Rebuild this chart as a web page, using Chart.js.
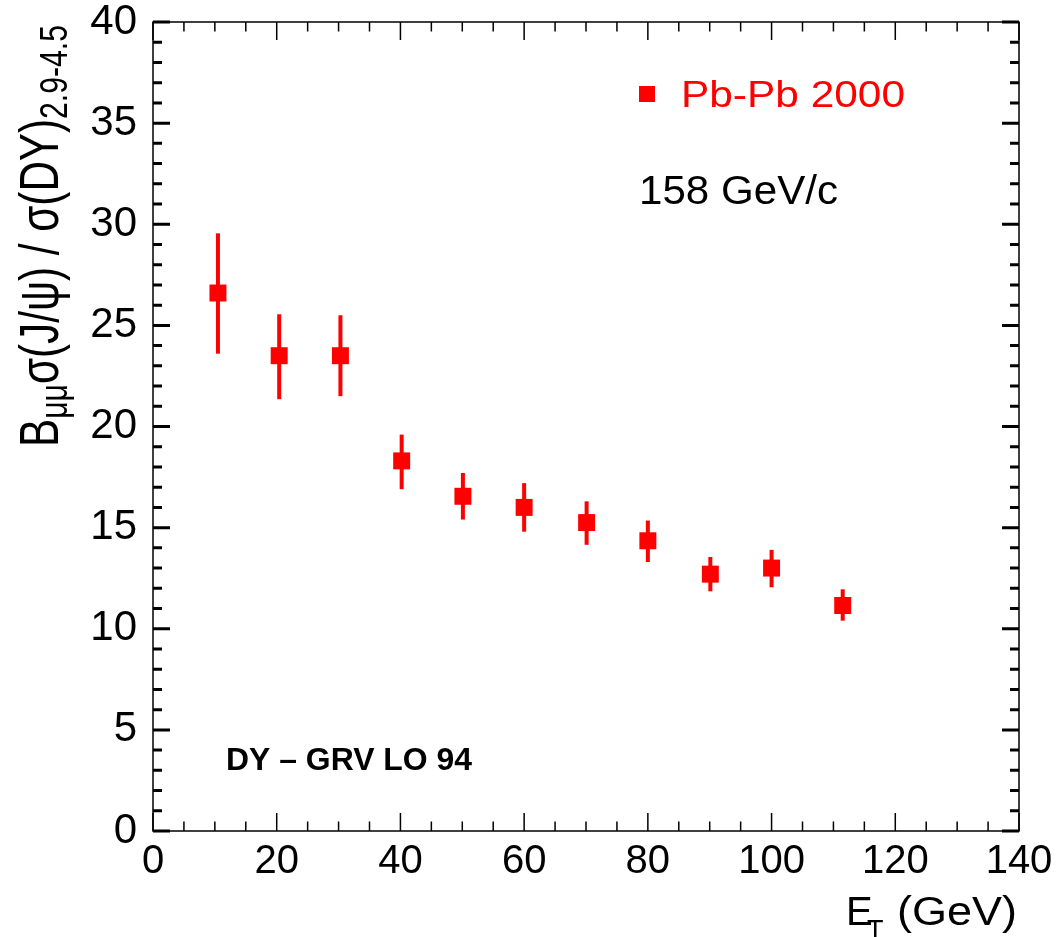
<!DOCTYPE html>
<html>
<head>
<meta charset="utf-8">
<script src="https://cdn.jsdelivr.net/npm/chart.js@4.4.1/dist/chart.umd.min.js"></script>
<style>
  html, body { margin: 0; padding: 0; background: #fff; }
  canvas { display: block; }
</style>
</head>
<body>
<canvas id="jpsiChart" width="1059" height="937"></canvas>
<script>
// E_T bins and J/psi / DY ratio
const etValues = [10.5, 20.4, 30.3, 40.2, 50.1, 60.0, 70.1, 80.0, 90.1, 100.0, 111.5];
const ratioValues = [26.6, 23.5, 23.5, 18.3, 16.55, 16.0, 15.25, 14.35, 12.7, 13.0, 11.15];
const errLow = [23.6, 21.35, 21.5, 16.9, 15.4, 14.8, 14.15, 13.3, 11.85, 12.05, 10.4];
const errHigh = [29.55, 25.55, 25.5, 19.6, 17.7, 17.2, 16.3, 15.35, 13.55, 13.9, 11.95];
const xTicks = [0, 20, 40, 60, 80, 100, 120, 140];
const yTicks = [0, 5, 10, 15, 20, 25, 30, 35, 40];

const FONT = "'Liberation Sans', Arial, sans-serif";
const RED = '#ff0000';

// draw text stretched to a given width (the original labels are a bit wide)
function fitText(ctx, text, left, baseline, font, width, color) {
    ctx.save();
    ctx.font = font;
    ctx.fillStyle = color;
    ctx.textAlign = 'left';
    ctx.textBaseline = 'alphabetic';
    const w = ctx.measureText(text).width;
    ctx.translate(left, baseline);
    ctx.scale(width / w, 1);
    ctx.fillText(text, 0, 0);
    ctx.restore();
}

const errorBars = {
    id: 'errorBars',
    beforeDatasetsDraw(chart) {
        const ctx = chart.ctx;
        const xs = chart.scales.x, ys = chart.scales.y;
        ctx.save();
        ctx.strokeStyle = RED;
        ctx.lineWidth = 4;
        etValues.forEach((et, i) => {
            const px = xs.getPixelForValue(et);
            ctx.beginPath();
            ctx.moveTo(px, ys.getPixelForValue(errLow[i]));
            ctx.lineTo(px, ys.getPixelForValue(errHigh[i]));
            ctx.stroke();
        });
        ctx.restore();
    }
};

const frameAndText = {
    id: 'frameAndText',
    afterDraw(chart) {
        const ctx = chart.ctx;
        const { left, right, top, bottom } = chart.chartArea;
        const xs = chart.scales.x, ys = chart.scales.y;
        ctx.save();
        ctx.strokeStyle = '#000';

        // frame
        ctx.lineWidth = 1.5;
        ctx.strokeRect(left, top, right - left, bottom - top);

        // y ticks, inside on both sides
        ctx.lineWidth = 3;
        for (let v = 0; v <= 40; v++) {
            const py = ys.getPixelForValue(v);
            const len = v % 5 === 0 ? 17 : 9;
            ctx.beginPath();
            ctx.moveTo(left, py); ctx.lineTo(left + len, py);
            ctx.moveTo(right, py); ctx.lineTo(right - len, py);
            ctx.stroke();
        }
        // x ticks, inside on top and bottom
        ctx.lineWidth = 1.5;
        for (let v = 0; v <= 140; v += 5) {
            const px = xs.getPixelForValue(v);
            const len = v % 20 === 0 ? 18 : 9.5;
            ctx.beginPath();
            ctx.moveTo(px, bottom); ctx.lineTo(px, bottom - len);
            ctx.moveTo(px, top); ctx.lineTo(px, top + len);
            ctx.stroke();
        }

        // legend
        ctx.fillStyle = RED;
        ctx.fillRect(639, 86, 16, 16);
        fitText(ctx, 'Pb-Pb 2000', 681, 107, '36px ' + FONT, 224, RED);
        fitText(ctx, '158 GeV/c', 639, 204, '40px ' + FONT, 199, '#000');
        fitText(ctx, 'DY \u2013 GRV LO 94', 226, 770, 'bold 32px ' + FONT, 246, '#000');

        // x title
        ctx.fillStyle = '#000';
        ctx.textBaseline = 'alphabetic';
        ctx.font = '40px ' + FONT;
        ctx.fillText('E', 846, 925);
        ctx.font = '27px ' + FONT;
        ctx.fillText('T', 867, 939);
        fitText(ctx, '(GeV)', 897, 925, '40px ' + FONT, 120, '#000');

        // y title, rotated, with subscripts
        const runs = [
            { t: 'B', s: 42, d: 0 },
            { t: '\u03bc\u03bc', s: 30, d: 7 },
            { t: '\u03c3(J/\u03c8) / \u03c3(DY)', s: 42, d: 0 },
            { t: '2.9-4.5', s: 30, d: 7 }
        ];
        let total = 0;
        runs.forEach(r => { ctx.font = r.s + 'px ' + FONT; r.w = ctx.measureText(r.t).width; total += r.w; });
        ctx.save();
        ctx.translate(58, 447);
        ctx.rotate(-Math.PI / 2);
        ctx.scale(422 / total, 1.3);
        let pos = 0;
        runs.forEach(r => {
            ctx.font = r.s + 'px ' + FONT;
            ctx.fillText(r.t, pos, r.d);
            pos += r.w;
        });
        ctx.restore();

        ctx.restore();
    }
};

// keep the plot frame where the original has it, whatever the label overflow
const noOverflow = (scale) => {
    scale.paddingTop = 0;
    scale.paddingBottom = 0;
    scale.paddingLeft = 0;
    scale.paddingRight = 0;
};

new Chart(document.getElementById('jpsiChart'), {
    type: 'scatter',
    data: {
        datasets: [{
            label: 'Pb-Pb 2000',
            data: etValues.map((x, i) => ({ x: x, y: ratioValues[i] })),
            pointStyle: 'rect',
            pointRadius: 12,
            pointHoverRadius: 12,
            backgroundColor: RED,
            borderColor: RED,
            borderWidth: 0
        }]
    },
    options: {
        responsive: false,
        devicePixelRatio: 1,
        animation: false,
        layout: { padding: { left: 0, top: 22, right: 40, bottom: 0 } },
        plugins: {
            legend: { display: false },
            tooltip: { enabled: false }
        },
        scales: {
            x: {
                type: 'linear',
                min: 0,
                max: 140,
                afterBuildTicks: (scale) => { scale.ticks = xTicks.map(v => ({ value: v })); },
                afterFit: (scale) => { scale.height = 106; noOverflow(scale); },
                grid: { display: false, drawTicks: false },
                border: { display: false },
                ticks: {
                    autoSkip: false,
                    maxRotation: 0,
                    padding: 11,
                    color: '#000',
                    font: { family: FONT, size: 40, lineHeight: 1 }
                }
            },
            y: {
                type: 'linear',
                min: 0,
                max: 40,
                afterBuildTicks: (scale) => { scale.ticks = yTicks.map(v => ({ value: v })); },
                afterFit: (scale) => { scale.width = 153; noOverflow(scale); },
                grid: { display: false, drawTicks: false },
                border: { display: false },
                ticks: {
                    padding: 16,
                    color: '#000',
                    font: { family: FONT, size: 42, lineHeight: 1 }
                }
            }
        }
    },
    plugins: [errorBars, frameAndText]
});
</script>
</body>
</html>
